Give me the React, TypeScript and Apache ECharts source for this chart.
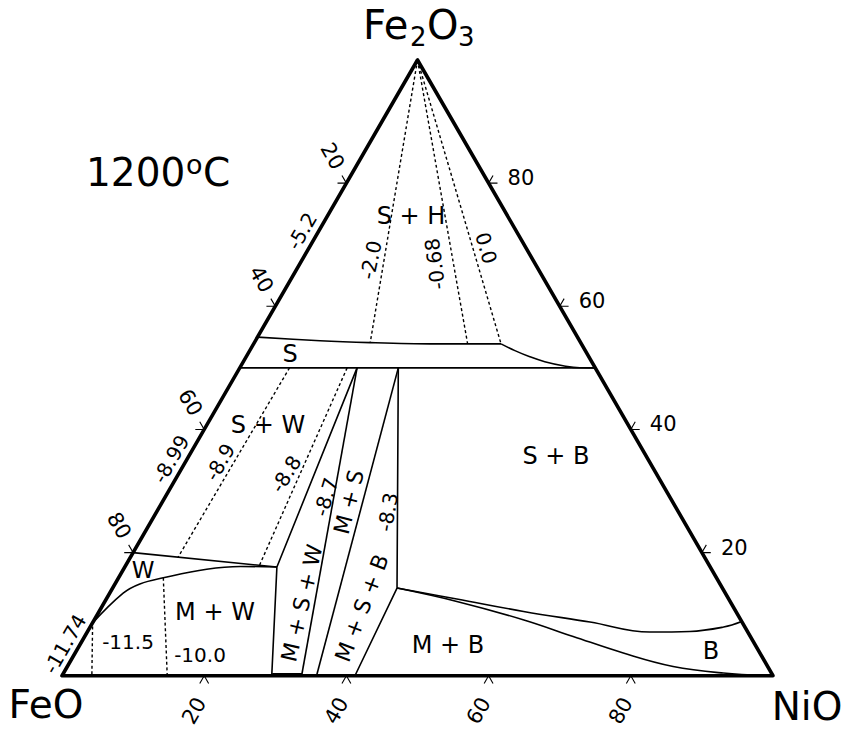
import React, { useEffect, useRef } from "react";
import * as echarts from "echarts";

// Ternary points are written as [NiO %, Fe2O3 %]; FeO = 100 - NiO - Fe2O3.
const SQ3 = Math.sqrt(3) / 2;
const FONT = '"DejaVu Sans", Verdana, sans-serif';

const AXIS_TICKS = [20, 40, 60, 80];

const TRIANGLE = [[0, 0], [100, 0], [0, 100], [0, 0], [100, 0]];

// phase boundaries
const S_UPPER = [[0, 55], [9.1, 54.4], [16.3, 54.1], [24.8, 53.9], [34.8, 53.9]];
const S_CURVE = [[34.8, 53.9], [37.3, 52.8], [39.9, 51.8], [42.4, 51.0], [45.3, 50.35], [47.8, 50.02], [50, 50]];
const S_LOWER = [[0, 50], [50, 50]];
const W_UPPER = [[0, 20], [21.4, 17.65]];
const W_LOWER = [[0, 8.5], [1.9, 13.4], [3.5, 14.9], [6.3, 15.9], [11.7, 17.3], [16.2, 17.75], [21.4, 17.65]];
const MSW_LEFT = [[16.5, 50], [21.4, 17.65], [29.5, 0]];
const MSW_RIGHT = [[16.5, 50], [33.7, 0]];
const MSW_BASE = [[29.5, 0.12], [33.7, 0.12]];
const MSB_LEFT = [[22.3, 50], [35.8, 0]];
const MSB_RIGHT = [[22.3, 50], [40.0, 14.24], [41.2, 0]];
const B_UPPER = [[40.0, 14.24], [49.3, 12.46], [59.7, 10.44], [69.9, 8.72], [79.1, 7.1], [84.7, 7.19], [89.1, 7.91], [91.2, 8.8]];
const B_LOWER = [[40.0, 14.24], [49.5, 12.07], [60.3, 9.1], [68.7, 6.38], [77.1, 3.69], [85.2, 1.51], [92.8, 0.44], [100, 0]];

// oxygen-potential (log pO2) dashed lines
const ISO_SH_M2_0 = [[0, 100], [16.3, 54.1]];
const ISO_SH_M0_68 = [[0, 100], [30.1, 53.9]];
const ISO_SH_0_0 = [[0, 100], [34.8, 53.9]];
const ISO_SW_M8_9 = [[7.0, 50], [6.7, 19.2]];
const ISO_SW_M8_8 = [[15.1, 50], [18.8, 18.0]];
const ISO_MW_M11_5 = [[0.3, 8.0], [4.2, 0]];
const ISO_MW_M10_0 = [[6.3, 15.9], [14.8, 0]];

const toXY = (p: number[]) => [p[0] + p[1] / 2, p[1] * SQ3];

type LineOpts = { width?: number; dash?: boolean; smooth?: number | boolean };
const lineSeries = (pts: number[][], o: LineOpts = {}) => ({
  type: "line",
  data: pts.map(toXY),
  symbol: "none",
  silent: true,
  clip: false,
  smooth: o.smooth ?? false,
  lineStyle: {
    color: "#000",
    width: o.width ?? 1.6,
    type: o.dash ? [3, 2.6] : "solid",
    join: "round",
  },
});

// annotation texts: [text, x, y, fontSize, rotationDeg, align]
const ANNOTATIONS: [string, number, number, number, number, string?][] = [
  ["S + H", 411, 216, 24, 0],
  ["S", 290, 354, 24, 0],
  ["S + W", 268, 425, 24, 0],
  ["S + B", 556, 456, 24, 0],
  ["W", 143, 570, 23, 0],
  ["M + W", 215, 612, 24, 0],
  ["M + B", 448, 645, 24, 0],
  ["B", 711, 651, 24, 0],
  ["-5.2", 302, 231, 20, 60],
  ["-8.99", 171, 459, 20, 60],
  ["-11.74", 65, 644, 20, 60],
  ["-2.0", 371, 260, 20, 78],
  ["-0.68", 435, 264, 20, 97],
  ["0.0", 486, 248, 20, -74],
  ["-8.9", 220, 462, 20, 60],
  ["-8.8", 286, 474, 20, 58],
  ["M + S + W", 302, 603, 22, 77],
  ["-8.7", 326, 497, 20, 73],
  ["M + S", 349, 502, 22, 76],
  ["M + S + B", 362, 608, 22, 69],
  ["-8.3", 388, 512, 20, 80],
  ["-11.5", 128, 642, 20, 0],
  ["-10.0", 200, 655, 20, 0],
  ["FeO", 46, 704, 39, 0],
  ["NiO", 807, 706, 39, 0],
  // title and apex label built from pieces (super/subscripts)
  ["1200", 86, 172, 39, 0, "left"],
  ["o", 186, 164, 27, 0, "left"],
  ["C", 203, 172, 39, 0, "left"],
  ["Fe", 363, 25, 40, 0, "left"],
  ["2", 410, 37, 26, 0, "left"],
  ["O", 427, 25, 40, 0, "left"],
  ["3", 458, 37, 26, 0, "left"],
];

export default function App() {
  const ref = useRef<HTMLDivElement>(null);

  useEffect(() => {
    const chart = echarts.init(ref.current!, null, { renderer: "svg" });

    const TL = 1.25; // tick stroke length in axis units
    const tickSeries = (base: number[][], d1: number[], d2: number[]) =>
      base.map((p) => {
        const c = toXY(p);
        return {
          type: "line",
          data: [
            [c[0] + TL * d1[0], c[1] + TL * d1[1]],
            c,
            [c[0] + TL * d2[0], c[1] + TL * d2[1]],
          ],
          symbol: "none",
          silent: true,
          clip: false,
          lineStyle: { color: "#000", width: 1.1 },
        };
      });

    const bottomPts = AXIS_TICKS.map((t) => [t, 0]);
    const rightPts = AXIS_TICKS.map((t) => [100 - t, t]);
    const leftPts = AXIS_TICKS.map((t) => [0, 100 - t]);

    const series: any[] = [
      lineSeries(TRIANGLE, { width: 3.6 }),
      lineSeries(S_UPPER, { smooth: 0.3 }),
      lineSeries(S_CURVE, { smooth: 0.4 }),
      lineSeries(S_LOWER),
      lineSeries(W_UPPER),
      lineSeries(W_LOWER, { smooth: 0.4 }),
      lineSeries(MSW_LEFT),
      lineSeries(MSW_RIGHT),
      lineSeries(MSW_BASE, { width: 4 }),
      lineSeries(MSB_LEFT),
      lineSeries(MSB_RIGHT),
      lineSeries(B_UPPER, { smooth: 0.4 }),
      lineSeries(B_LOWER, { smooth: 0.4 }),
      lineSeries(ISO_SH_M2_0, { dash: true, width: 1.4 }),
      lineSeries(ISO_SH_M0_68, { dash: true, width: 1.4 }),
      lineSeries(ISO_SH_0_0, { dash: true, width: 1.4 }),
      lineSeries(ISO_SW_M8_9, { dash: true, width: 1.4 }),
      lineSeries(ISO_SW_M8_8, { dash: true, width: 1.4 }),
      lineSeries(ISO_MW_M11_5, { dash: true, width: 1.4 }),
      lineSeries(ISO_MW_M10_0, { dash: true, width: 1.4 }),
      ...tickSeries(bottomPts, [-0.5, -SQ3], [0.5, -SQ3]),
      ...tickSeries(rightPts, [1, 0], [0.5, SQ3]),
      ...tickSeries(leftPts, [-1, 0], [-0.5, SQ3]),
    ];

    chart.setOption({
      animation: false,
      backgroundColor: "#fff",
      grid: { left: 62, top: 60, width: 711, height: 711 * SQ3 },
      xAxis: { type: "value", min: 0, max: 100, show: false },
      yAxis: { type: "value", min: 0, max: 100 * SQ3, show: false },
      series,
    });

    const px = (p: number[]) =>
      chart.convertToPixel({ gridIndex: 0 }, toXY(p)) as unknown as number[];

    const txt = (text: string, x: number, y: number, size: number, rot = 0, align = "center") => ({
      type: "text",
      x,
      y,
      rotation: (rot * Math.PI) / 180,
      silent: true,
      style: {
        text,
        fontSize: size,
        fontFamily: FONT,
        fill: "#000",
        align,
        textAlign: align,
        verticalAlign: "middle",
        textVerticalAlign: "middle",
      },
    });

    const graphic: any[] = [];
    AXIS_TICKS.forEach((t, i) => {
      const b = px(bottomPts[i]);
      graphic.push(txt(String(t), b[0] - 10, b[1] + 35, 21, 60));
      const r = px(rightPts[i]);
      graphic.push(txt(String(t), r[0] + 19, r[1] - 5, 21, 0, "left"));
      const l = px(leftPts[i]);
      graphic.push(txt(String(t), l[0] - 14, l[1] - 27, 21, -60));
    });
    ANNOTATIONS.forEach(([t, x, y, s, r, a]) => graphic.push(txt(t, x, y, s, r, a ?? "center")));

    chart.setOption({ graphic });

    return () => chart.dispose();
  }, []);

  return (
    <div
      ref={ref}
      style={{ position: "absolute", left: 0, top: 0, width: 845, height: 729, background: "#fff" }}
    />
  );
}
